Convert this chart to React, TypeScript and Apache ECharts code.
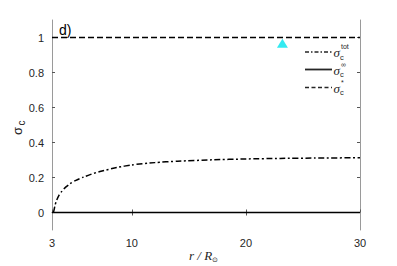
import React, { useEffect, useRef } from "react";
import * as echarts from "echarts";

const xTicks = [3, 10, 20, 30];
const yTicks = [0, 0.2, 0.4, 0.6, 0.8, 1];
const rValues = [3.12, 3.18, 3.28, 3.41, 3.6, 3.85, 4.2, 4.58, 5.1, 5.75, 6.4, 7.2, 8.67, 10, 12, 14, 17, 20, 23, 26, 30];
const sigmaTot = [0.0, 0.015, 0.045, 0.07, 0.097, 0.12, 0.145, 0.164, 0.184, 0.202, 0.218, 0.234, 0.257, 0.272, 0.285, 0.293, 0.301, 0.306, 0.309, 0.311, 0.313];
const sigmaInf = [[3, 0], [30, 0]];
const sigmaStar = [[3, 1], [30, 1]];
const marker = [[23.2, 0.967]];

export default function App() {
  const ref = useRef<HTMLDivElement>(null);
  useEffect(() => {
    document.body.style.margin = "0";
    const chart = echarts.init(ref.current!, null, { renderer: "svg" });
    const tot = rValues.map((r, i) => [r, sigmaTot[i]]);
    const axisColor = "#9a9a9a";
    const labelColor = "#262626";
    const legendRow = (y: number, dash: any, sup: string) => [
      { type: "line", shape: { x1: 305, y1: y, x2: 332, y2: y }, style: { stroke: "#262626", lineWidth: dash === "solid" ? 1.8 : 1.4, lineDash: dash === "solid" ? null : dash } },
      { type: "text", x: 333.5, y: y + 0.5, style: { text: "σ", font: "italic 13px Liberation Serif", fill: "#262626", verticalAlign: "middle" } },
      { type: "text", x: 341, y: y - 5.5, style: { text: sup, font: "7px Liberation Sans", fill: "#262626", verticalAlign: "middle" } },
      { type: "text", x: 340, y: y + 5, style: { text: "c", font: "7.5px Liberation Sans", fill: "#262626", verticalAlign: "middle" } },
    ];
    chart.setOption({
      animation: false,
      grid: { left: 52, top: 20, right: 37, bottom: 36 },
      xAxis: [
        {
          type: "value", min: 3, max: 30, position: "bottom",
          axisLine: { lineStyle: { color: axisColor } },
          axisTick: { inside: true, length: 3, customValues: xTicks, lineStyle: { color: "#555" } },
          axisLabel: { customValues: xTicks, color: labelColor, fontSize: 11, fontFamily: "Liberation Sans", margin: 7 },
          splitLine: { show: false },
        },
        {
          type: "value", min: 3, max: 30, position: "top",
          axisLine: { show: true, lineStyle: { color: axisColor } },
          axisTick: { show: true, inside: true, length: 3, customValues: [10, 20], lineStyle: { color: "#555" } },
          axisLabel: { show: false },
          splitLine: { show: false },
        },
      ],
      yAxis: [
        {
          type: "value", min: -0.1, max: 1.1, position: "left",
          axisLine: { show: true, lineStyle: { color: axisColor } },
          axisTick: { show: true, inside: true, length: 3, customValues: yTicks, lineStyle: { color: "#555" } },
          axisLabel: { customValues: yTicks, color: labelColor, fontSize: 11, fontFamily: "Liberation Sans", margin: 8 },
          splitLine: { show: false },
        },
        {
          type: "value", min: -0.1, max: 1.1, position: "right",
          axisLine: { show: true, lineStyle: { color: axisColor } },
          axisTick: { show: true, inside: true, length: 3, customValues: yTicks, lineStyle: { color: "#555" } },
          axisLabel: { show: false },
          splitLine: { show: false },
        },
      ],
      series: [
        { type: "line", data: tot, showSymbol: false, smooth: 0.2, lineStyle: { color: "#000", width: 1.5, type: [6, 2.5, 2, 2.5] } },
        { type: "line", data: sigmaInf, showSymbol: false, lineStyle: { color: "#000", width: 1.5 } },
        { type: "line", data: sigmaStar, showSymbol: false, lineStyle: { color: "#000", width: 1.5, type: [6, 3] } },
        { type: "scatter", data: marker, symbol: "triangle", symbolSize: [11, 9], itemStyle: { color: "#00e5ee" } },
      ],
      graphic: [
        { type: "text", x: 59, y: 23, style: { text: "d)", font: "14px Liberation Sans", fill: "#000" } },
        ...legendRow(52, [4, 2, 1.5, 2], "tot"),
        ...legendRow(69.5, "solid", "∞"),
        ...legendRow(87.5, [4, 2.5], "*"),
        {
          type: "group", x: 17, y: 125, rotation: Math.PI / 2,
          children: [
            { type: "text", x: -6, y: 0, style: { text: "σ", font: "13px Liberation Sans", fill: "#262626", verticalAlign: "middle", align: "center" } },
            { type: "text", x: 2, y: 4, style: { text: "c", font: "10px Liberation Sans", fill: "#262626", verticalAlign: "middle", align: "center" } },
          ],
        },
        {
          type: "group", x: 189, y: 255,
          children: [
            { type: "text", x: 0, y: 0, style: { text: "r / R", font: "italic 13px Liberation Serif", fill: "#262626", verticalAlign: "middle" } },
            { type: "text", x: 23, y: 5, style: { text: "⊙", font: "7px DejaVu Sans", fill: "#262626", verticalAlign: "middle" } },
          ],
        },
      ],
    });
    return () => chart.dispose();
  }, []);
  return <div ref={ref} style={{ width: 397, height: 266 }} />;
}
